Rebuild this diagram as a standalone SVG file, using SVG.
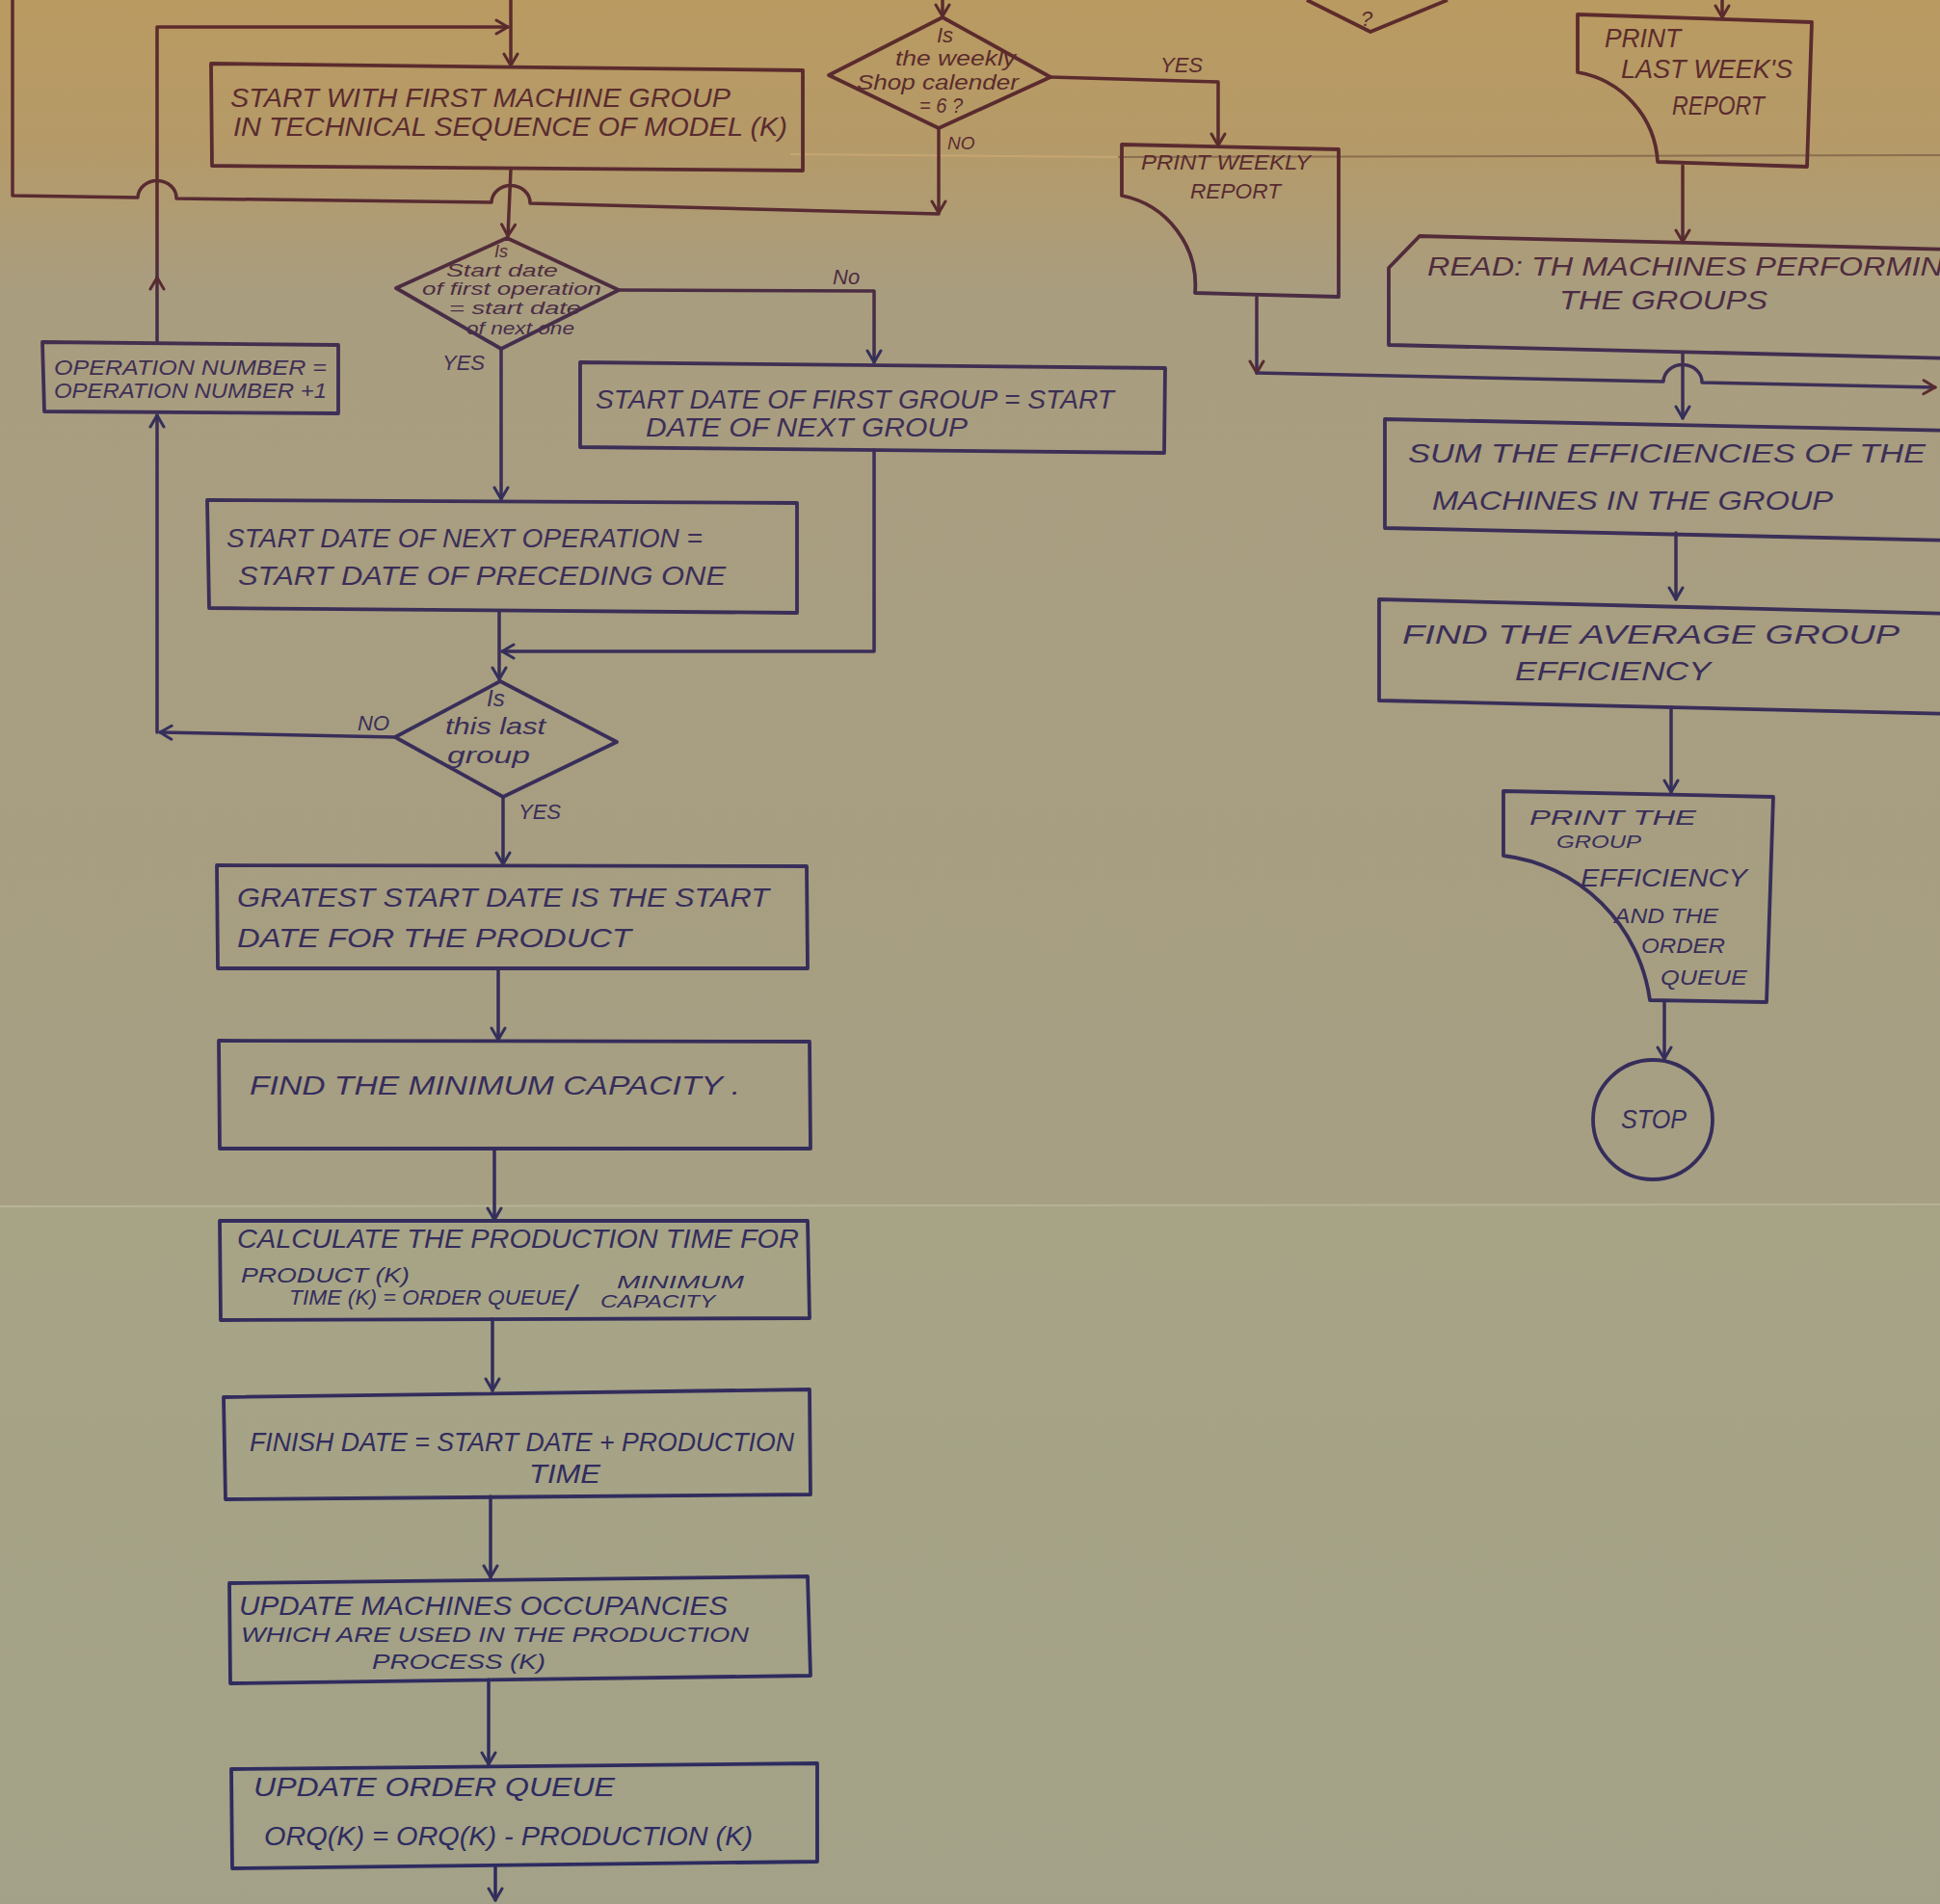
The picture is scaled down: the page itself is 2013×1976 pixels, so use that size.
<svg xmlns="http://www.w3.org/2000/svg" width="2013" height="1976" viewBox="0 0 2013 1976">
<defs>
<linearGradient id="paper" gradientUnits="userSpaceOnUse" x1="0" y1="0" x2="0" y2="1252">
<stop offset="0" stop-color="#b99a61"/>
<stop offset="0.12" stop-color="#b59a68"/>
<stop offset="0.24" stop-color="#a99d7f"/>
<stop offset="1" stop-color="#a69f83"/>
</linearGradient>
<linearGradient id="paper2" gradientUnits="userSpaceOnUse" x1="0" y1="1252" x2="0" y2="1976">
<stop offset="0" stop-color="#a7a486"/>
<stop offset="1" stop-color="#a3a187"/>
</linearGradient>
<linearGradient id="ink" gradientUnits="userSpaceOnUse" x1="0" y1="0" x2="0" y2="1976">
<stop offset="0" stop-color="#5c2b2b"/>
<stop offset="0.11" stop-color="#582b31"/>
<stop offset="0.2" stop-color="#3d2f56"/>
<stop offset="1" stop-color="#2d2b60"/>
</linearGradient>
<marker id="aT" viewBox="-14 -9 16 18" refX="0" refY="0" markerWidth="16" markerHeight="18" orient="auto" markerUnits="userSpaceOnUse">
<path d="M-12,-7 L0,0 L-12,7" fill="none" stroke="#5a2b2e" stroke-width="3" stroke-linecap="round" stroke-linejoin="round"/>
</marker>
<marker id="aB" viewBox="-14 -9 16 18" refX="0" refY="0" markerWidth="16" markerHeight="18" orient="auto" markerUnits="userSpaceOnUse">
<path d="M-12,-7 L0,0 L-12,7" fill="none" stroke="#34305c" stroke-width="3" stroke-linecap="round" stroke-linejoin="round"/>
</marker>
</defs>
<style>
.ln{fill:none;stroke:url(#ink);stroke-width:3.5;stroke-linecap:round;stroke-linejoin:round}
.bx{fill:none;stroke:url(#ink);stroke-width:3.8;stroke-linejoin:round}
.t{font-family:"Liberation Sans",Arial,sans-serif;font-style:italic;fill:url(#ink);font-size:28px}
.s{font-size:22px}
.d{font-size:18px}
.l{font-size:22px}
.aT{marker-end:url(#aT)}
.aB{marker-end:url(#aB)}
</style>

<g id="background">
<rect x="0" y="0" width="2013" height="1252" fill="url(#paper)"/>
<rect x="0" y="1252" width="2013" height="724" fill="url(#paper2)"/>
<line x1="0" y1="1252" x2="2013" y2="1250" stroke="#c2bea4" stroke-width="2" opacity="0.6"/>
<line x1="1160" y1="163" x2="2013" y2="161" stroke="#5a3a30" stroke-width="2" opacity="0.45"/>
<line x1="820" y1="160" x2="1160" y2="163" stroke="#d6b27a" stroke-width="2" opacity="0.5"/>
</g>

<g id="connectors">
<path class="ln" d="M13,0 L13,203 L143,205 A20,18 0 0 1 183,206 L510,210 A20,18 0 0 1 550,211 L974,222"/>
<path class="ln aT" d="M530,0 L530,68"/>
<path class="ln aT" d="M163,356 L163,288"/>
<path class="ln aT" d="M163,288 L163,28 L527,28"/>
<path class="ln aT" d="M530,176 L527,245"/>
<path class="ln aB" d="M642,301 L907,302 L907,376"/>
<path class="ln aB" d="M907,467 L907,676 L521,676"/>
<path class="ln aB" d="M520,362 L520,518"/>
<path class="ln aB" d="M518,634 L518,705"/>
<path class="ln aB" d="M410,765 L166,760"/>
<path class="ln aB" d="M163,760 L163,431"/>
<path class="ln aB" d="M522,827 L522,897"/>
<path class="ln aB" d="M517,1005 L517,1079"/>
<path class="ln aB" d="M513,1192 L513,1266"/>
<path class="ln aB" d="M511,1369 L511,1443"/>
<path class="ln aB" d="M509,1553 L509,1637"/>
<path class="ln aB" d="M507,1743 L507,1831"/>
<path class="ln aB" d="M514,1937 L514,1972"/>
<path class="ln aT" d="M978,0 L978,17"/>
<path class="ln aT" d="M1090,80 L1264,85 L1264,151"/>
<path class="ln aT" d="M974,133 L974,221"/>
<path class="ln aT" d="M1304,308 L1304,387"/>
<path class="ln aT" d="M1304,387 L1726,396 A20,18 0 0 1 1766,397 L2008,402"/>
<path class="ln aT" d="M1787,0 L1787,18"/>
<path class="ln aT" d="M1746,172 L1746,251"/>
<path class="ln aB" d="M1746,367 L1746,434"/>
<path class="ln aB" d="M1739,553 L1739,622"/>
<path class="ln aB" d="M1734,734 L1734,822"/>
<path class="ln aB" d="M1727,1040 L1727,1099"/>
</g>

<g id="n-partial-decision">
<polyline class="bx" points="1356,0 1422,33 1502,0"/>
<text class="t l" x="1412" y="27">?</text>
</g>

<g id="n-start-machine-group">
<polygon class="bx" points="219,66 833,73 833,177 220,172"/>
<text class="t" x="239" y="111" textLength="519" lengthAdjust="spacingAndGlyphs">START WITH FIRST MACHINE GROUP</text>
<text class="t" x="242" y="141" textLength="575" lengthAdjust="spacingAndGlyphs">IN TECHNICAL SEQUENCE OF MODEL (K)</text>
</g>

<g id="n-decision-start-date">
<polygon class="bx" points="526,247 642,301 520,362 411,299"/>
<text class="t d" x="513" y="267">Is</text>
<text class="t d" x="463" y="287" textLength="116" lengthAdjust="spacingAndGlyphs">Start date</text>
<text class="t d" x="438" y="306" textLength="186" lengthAdjust="spacingAndGlyphs">of first operation</text>
<text class="t d" x="466" y="326" textLength="137" lengthAdjust="spacingAndGlyphs">= start date</text>
<text class="t d" x="484" y="347" textLength="112" lengthAdjust="spacingAndGlyphs">of next one</text>
</g>

<g id="n-operation-number">
<polygon class="bx" points="44,355 351,358 351,429 46,427"/>
<text class="t s" x="56" y="389" textLength="283" lengthAdjust="spacingAndGlyphs">OPERATION NUMBER =</text>
<text class="t s" x="56" y="413" textLength="283" lengthAdjust="spacingAndGlyphs">OPERATION NUMBER +1</text>
</g>

<g id="n-start-date-first-group">
<polygon class="bx" points="602,376 1209,382 1208,470 602,464"/>
<text class="t" x="618" y="424" textLength="538" lengthAdjust="spacingAndGlyphs">START DATE OF FIRST GROUP = START</text>
<text class="t" x="670" y="453" textLength="334" lengthAdjust="spacingAndGlyphs">DATE OF NEXT GROUP</text>
</g>

<g id="n-start-date-next-operation">
<polygon class="bx" points="215,519 827,522 827,636 217,631"/>
<text class="t" x="235" y="568" textLength="494" lengthAdjust="spacingAndGlyphs">START DATE OF NEXT OPERATION =</text>
<text class="t" x="247" y="607" textLength="506" lengthAdjust="spacingAndGlyphs">START DATE OF PRECEDING ONE</text>
</g>

<g id="n-decision-last-group">
<polygon class="bx" points="519,707 640,770 522,827 410,765"/>
<text class="t" x="505" y="733" style="font-size:24px">Is</text>
<text class="t" x="462" y="762" style="font-size:24px" textLength="104" lengthAdjust="spacingAndGlyphs">this last</text>
<text class="t" x="464" y="792" style="font-size:24px" textLength="86" lengthAdjust="spacingAndGlyphs">group</text>
</g>

<g id="labels">
<text class="t l" x="864" y="295">No</text>
<text class="t l" x="459" y="384">YES</text>
<text class="t l" x="371" y="758">NO</text>
<text class="t l" x="538" y="850">YES</text>
<text class="t l" x="1204" y="75">YES</text>
<text class="t s" x="983" y="155" style="font-size:19px">NO</text>
</g>

<g id="n-greatest-start-date">
<polygon class="bx" points="225,898 837,899 838,1005 226,1005"/>
<text class="t" x="246" y="941" textLength="552" lengthAdjust="spacingAndGlyphs">GRATEST START DATE IS THE START</text>
<text class="t" x="246" y="983" textLength="409" lengthAdjust="spacingAndGlyphs">DATE FOR THE PRODUCT</text>
</g>

<g id="n-minimum-capacity">
<polygon class="bx" points="227,1080 840,1081 841,1192 228,1192"/>
<text class="t" x="259" y="1136" textLength="509" lengthAdjust="spacingAndGlyphs">FIND THE MINIMUM CAPACITY .</text>
</g>

<g id="n-production-time">
<polygon class="bx" points="228,1267 838,1267 840,1368 229,1370"/>
<text class="t" x="246" y="1295" textLength="583" lengthAdjust="spacingAndGlyphs">CALCULATE THE PRODUCTION TIME FOR</text>
<text class="t s" x="250" y="1331" textLength="175" lengthAdjust="spacingAndGlyphs">PRODUCT (K)</text>
<text class="t s" x="300" y="1354" textLength="287" lengthAdjust="spacingAndGlyphs">TIME (K) = ORDER QUEUE</text>
<text class="t" x="588" y="1360" style="font-size:36px">/</text>
<text class="t d" x="640" y="1337" textLength="132" lengthAdjust="spacingAndGlyphs">MINIMUM</text>
<text class="t d" x="623" y="1357" textLength="119" lengthAdjust="spacingAndGlyphs">CAPACITY</text>
</g>

<g id="n-finish-date">
<polygon class="bx" points="232,1450 840,1442 841,1551 234,1556"/>
<text class="t" x="259" y="1506" textLength="565" lengthAdjust="spacingAndGlyphs">FINISH DATE = START DATE + PRODUCTION</text>
<text class="t" x="549" y="1539" textLength="74" lengthAdjust="spacingAndGlyphs">TIME</text>
</g>

<g id="n-update-occupancies">
<polygon class="bx" points="238,1643 838,1636 841,1739 239,1747"/>
<text class="t" x="248" y="1676" textLength="507" lengthAdjust="spacingAndGlyphs">UPDATE MACHINES OCCUPANCIES</text>
<text class="t s" x="250" y="1704" textLength="527" lengthAdjust="spacingAndGlyphs">WHICH ARE USED IN THE PRODUCTION</text>
<text class="t s" x="386" y="1732" textLength="180" lengthAdjust="spacingAndGlyphs">PROCESS (K)</text>
</g>

<g id="n-update-order-queue">
<polygon class="bx" points="240,1836 848,1830 848,1932 241,1939"/>
<text class="t" x="263" y="1864" textLength="375" lengthAdjust="spacingAndGlyphs">UPDATE ORDER QUEUE</text>
<text class="t" x="274" y="1915" textLength="507" lengthAdjust="spacingAndGlyphs">ORQ(K) = ORQ(K) - PRODUCTION (K)</text>
</g>

<g id="n-decision-weekly">
<polygon class="bx" points="978,18 1090,80 974,133 860,78"/>
<text class="t" x="972" y="44" style="font-size:22px">Is</text>
<text class="t" x="929" y="68" style="font-size:22px" textLength="125" lengthAdjust="spacingAndGlyphs">the weekly</text>
<text class="t" x="889" y="93" style="font-size:22px" textLength="168" lengthAdjust="spacingAndGlyphs">Shop calender</text>
<text class="t" x="954" y="117" style="font-size:22px" textLength="45" lengthAdjust="spacingAndGlyphs">= 6 ?</text>
</g>

<g id="n-print-weekly-report">
<path class="bx" d="M1164,150 L1389,155 L1389,308 L1240,304 A95,95 0 0 0 1164,203 Z"/>
<text class="t l" x="1184" y="176" textLength="176" lengthAdjust="spacingAndGlyphs">PRINT WEEKLY</text>
<text class="t l" x="1235" y="206" textLength="94" lengthAdjust="spacingAndGlyphs">REPORT</text>
</g>

<g id="n-print-last-week">
<path class="bx" d="M1637,15 L1880,23 L1875,173 L1720,168 A100,100 0 0 0 1637,75 Z"/>
<text class="t" x="1665" y="49" textLength="79" lengthAdjust="spacingAndGlyphs">PRINT</text>
<text class="t" x="1682" y="81" textLength="178" lengthAdjust="spacingAndGlyphs">LAST WEEK'S</text>
<text class="t" x="1735" y="119" textLength="96" lengthAdjust="spacingAndGlyphs">REPORT</text>
</g>

<g id="n-read-machines">
<path class="bx" d="M1441,358 L1441,278 L1473,245 L2030,259 L2030,372 Z"/>
<text class="t" x="1481" y="286" textLength="560" lengthAdjust="spacingAndGlyphs">READ: TH MACHINES PERFORMING</text>
<text class="t" x="1618" y="321" textLength="216" lengthAdjust="spacingAndGlyphs">THE GROUPS</text>
</g>

<g id="n-sum-efficiencies">
<polygon class="bx" points="1437,435 2030,447 2030,561 1437,548"/>
<text class="t" x="1461" y="480" textLength="537" lengthAdjust="spacingAndGlyphs">SUM THE EFFICIENCIES OF THE</text>
<text class="t" x="1486" y="529" textLength="416" lengthAdjust="spacingAndGlyphs">MACHINES IN THE GROUP</text>
</g>

<g id="n-average-efficiency">
<polygon class="bx" points="1431,622 2030,637 2030,741 1431,727"/>
<text class="t" x="1455" y="668" textLength="516" lengthAdjust="spacingAndGlyphs">FIND THE AVERAGE GROUP</text>
<text class="t" x="1572" y="706" textLength="203" lengthAdjust="spacingAndGlyphs">EFFICIENCY</text>
</g>

<g id="n-print-group-efficiency">
<path class="bx" d="M1560,821 L1840,827 L1833,1040 L1712,1038 A175,175 0 0 0 1560,888 Z"/>
<text class="t l" x="1587" y="856" textLength="173" lengthAdjust="spacingAndGlyphs">PRINT THE</text>
<text class="t s" x="1615" y="880" style="font-size:19px" textLength="88" lengthAdjust="spacingAndGlyphs">GROUP</text>
<text class="t" x="1640" y="920" style="font-size:26px" textLength="173" lengthAdjust="spacingAndGlyphs">EFFICIENCY</text>
<text class="t l" x="1675" y="958" textLength="108" lengthAdjust="spacingAndGlyphs">AND THE</text>
<text class="t l" x="1703" y="989" textLength="87" lengthAdjust="spacingAndGlyphs">ORDER</text>
<text class="t l" x="1723" y="1022" textLength="90" lengthAdjust="spacingAndGlyphs">QUEUE</text>
</g>

<g id="n-stop">
<circle class="bx" cx="1715" cy="1162" r="62"/>
<text class="t" x="1682" y="1171" textLength="68" lengthAdjust="spacingAndGlyphs">STOP</text>
</g>
</svg>
